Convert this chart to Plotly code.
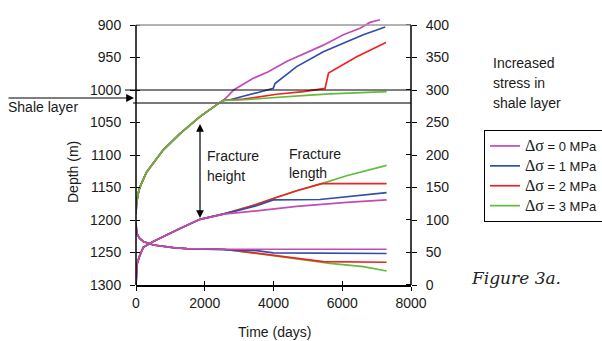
import plotly.graph_objects as go

# ---------------- data ----------------
SERIES = ["0", "1", "2", "3"]
COLORS = ["#C24CB4", "#2F4FA8", "#F22222", "#62BC3C"]

# Upper fracture tip (depth, m) – common part until the shale layer
T_UP_COMMON = [0, 15, 60, 116, 310, 795, 1280, 1862, 2444, 2540]
D_UP_COMMON = [1190, 1175, 1160, 1149, 1126, 1092, 1067, 1041, 1019, 1016]
T_UP_TAIL = [
    [2700, 2840, 3410, 3850, 4380, 4870, 5450, 6030, 6516, 6807, 7100],
    [2735, 3122, 3607, 3994, 4044, 4674, 5450, 6030, 6613, 7250],
    [3122, 4093, 4870, 5500, 5600, 6420, 7272],
    [3122, 4093, 5062, 5644, 7290],
]
D_UP_TAIL = [
    [1008, 1000, 982, 972, 956, 944, 931, 915, 905, 896, 892],
    [1015, 1010, 1003, 997.5, 990, 964, 941, 928, 915, 903],
    [1014, 1006.5, 1002.5, 997.5, 974, 949, 927],
    [1015, 1011, 1008, 1006, 1002.5],
]

# Lower fracture tip (depth, m)
T_LOW_COMMON = [0, 5, 20, 100, 212, 503, 1086, 1475, 2540]
D_LOW_COMMON = [1205, 1213, 1220, 1228, 1233, 1238.5, 1242.6, 1244, 1245]
T_LOW_TAIL = [
    [7290],
    [3025, 3510, 3994, 7290],
    [3510, 4674, 5450, 7290],
    [3510, 4674, 5644, 6613, 7290],
]
D_LOW_TAIL = [
    [1245],
    [1245.5, 1247, 1250.5, 1251.5],
    [1251, 1259, 1264, 1265],
    [1251.5, 1260, 1266.6, 1271.8, 1278.5],
]

# Fracture length (m, right axis)
T_LEN_COMMON = [0, 5, 30, 100, 212, 503, 795, 1280, 1862, 2540]
L_LEN_COMMON = [0, 18, 32, 44, 58, 67, 75, 87, 101, 109]
T_LEN_TAIL = [
    [3510, 4674, 6128, 7290],
    [3000, 3510, 3994, 5350, 6128, 7290],
    [3000, 3510, 3994, 4674, 5400, 7290],
    [3000, 3510, 3994, 4674, 5400, 6128, 7290],
]
L_LEN_TAIL = [
    [114, 121, 127, 131],
    [115, 122, 131, 131.5, 136, 142],
    [116, 124, 133, 145, 156, 156],
    [116, 124, 133, 145, 156, 168, 184],
]

SHALE_TOP = 1000
SHALE_BOTTOM = 1020
DEPTH_TOP = 900
DEPTH_BOTTOM = 1300

X_TICKS = [0, 2000, 4000, 6000, 8000]
DEPTH_TICKS = [900, 950, 1000, 1050, 1100, 1150, 1200, 1250, 1300]
LEN_TICKS = [0, 50, 100, 150, 200, 250, 300, 350, 400]

# ---------------- layout geometry ----------------
W, H = 602, 341
ML, MR, MT, MB = 136, 191, 15, 56
PW, PH = W - ML - MR, H - MT - MB
PX_PER_M = 260 / 400.0
Y_TOP = DEPTH_BOTTOM - PH / PX_PER_M  # slight headroom above 900
LEN_TOP = DEPTH_BOTTOM - Y_TOP


def px_x(p):
    return (p - ML) / PW


def px_y(p):
    return (H - MB - p) / PH


FONT = "Liberation Sans, Arial, sans-serif"
TXT = "#1a1a1a"

fig = go.Figure()

# upper tips (green on top)
for i, s in enumerate(SERIES):
    fig.add_trace(go.Scatter(
        x=T_UP_COMMON + T_UP_TAIL[i], y=D_UP_COMMON + D_UP_TAIL[i],
        mode="lines", line=dict(color=COLORS[i], width=1.7),
        name="<span style='font-family:Liberation Serif; font-size:16px'>Δσ</span> = %s MPa" % s,
        legendgroup=s, showlegend=True, hoverinfo="skip"))

# lower tips and lengths (magenta on top)
for i in reversed(range(len(SERIES))):
    s = SERIES[i]
    fig.add_trace(go.Scatter(
        x=T_LOW_COMMON + T_LOW_TAIL[i], y=D_LOW_COMMON + D_LOW_TAIL[i],
        mode="lines", line=dict(color=COLORS[i], width=1.7),
        legendgroup=s, showlegend=False, hoverinfo="skip"))
for i in reversed(range(len(SERIES))):
    s = SERIES[i]
    fig.add_trace(go.Scatter(
        x=T_LEN_COMMON + T_LEN_TAIL[i], y=L_LEN_COMMON + L_LEN_TAIL[i],
        mode="lines", line=dict(color=COLORS[i], width=1.7),
        yaxis="y2", legendgroup=s, showlegend=False, hoverinfo="skip"))

tickfont = dict(family=FONT, size=14, color=TXT)

fig.update_layout(
    width=W, height=H,
    margin=dict(l=ML, r=MR, t=MT, b=MB, pad=0, autoexpand=False),
    paper_bgcolor="white", plot_bgcolor="white",
    showlegend=True,
    legend=dict(x=px_x(484), y=px_y(130), xanchor="left", yanchor="top",
                bordercolor="black", borderwidth=1, bgcolor="white",
                font=dict(family=FONT, size=13, color=TXT),
                itemwidth=30, tracegroupgap=0),
    xaxis=dict(range=[0, 8000], tickmode="array", tickvals=X_TICKS,
               ticktext=[str(v) for v in X_TICKS],
               ticks="outside", ticklen=4, tickwidth=1.3, tickcolor="black",
               showline=True, linecolor="black", linewidth=1.5,
               showgrid=False, zeroline=False, tickfont=tickfont,
               minor=dict(tickmode="array", tickvals=[v + 1 for v in X_TICKS],
                          ticks="inside", ticklen=4, tickwidth=1.3,
                          tickcolor="black", showgrid=False)),
    yaxis=dict(range=[DEPTH_BOTTOM, Y_TOP], tickmode="array",
               tickvals=DEPTH_TICKS, ticktext=[str(v) for v in DEPTH_TICKS],
               ticks="outside", ticklen=5, tickwidth=1.3, tickcolor="black",
               showline=False, showgrid=False, zeroline=False,
               tickfont=tickfont, ticklabelstandoff=6,
               minor=dict(tickmode="array", tickvals=[v + 0.1 for v in DEPTH_TICKS],
                          ticks="inside", ticklen=4, tickwidth=1.3,
                          tickcolor="black", showgrid=False)),
    yaxis2=dict(range=[0, LEN_TOP], overlaying="y", side="right",
                tickmode="array", tickvals=LEN_TICKS,
                ticktext=[str(v) for v in LEN_TICKS],
                ticks="outside", ticklen=5, tickwidth=1.3, tickcolor="black",
                showline=False, showgrid=False, zeroline=False,
                tickfont=tickfont, ticklabelstandoff=6,
                minor=dict(tickmode="array", tickvals=[v + 0.1 for v in LEN_TICKS],
                           ticks="inside", ticklen=5, tickwidth=1.3,
                           tickcolor="black", showgrid=False)),
)

# reference lines and axis lines
shapes = [
    dict(type="line", xref="paper", yref="y", x0=0, x1=1, y0=DEPTH_TOP, y1=DEPTH_TOP,
         line=dict(color="#9a9a9a", width=1.6)),
    dict(type="line", xref="paper", yref="y", x0=px_x(125), x1=1, y0=SHALE_TOP, y1=SHALE_TOP,
         line=dict(color="black", width=1)),
    dict(type="line", xref="paper", yref="y", x0=px_x(133), x1=1, y0=SHALE_BOTTOM, y1=SHALE_BOTTOM,
         line=dict(color="#7a7a7a", width=2)),
    dict(type="line", xref="paper", yref="y", x0=0, x1=0, y0=DEPTH_TOP, y1=DEPTH_BOTTOM,
         line=dict(color="black", width=1.5)),
    dict(type="line", xref="paper", yref="y", x0=1, x1=1, y0=DEPTH_TOP, y1=DEPTH_BOTTOM,
         line=dict(color="black", width=1.5)),
]
fig.update_layout(shapes=shapes)

ann_font = dict(family=FONT, size=14, color=TXT)
annotations = []


def label(text, xp, yp, xanchor="left", **kw):
    annotations.append(dict(text=text, x=px_x(xp), y=px_y(yp), xref="paper", yref="paper",
                            xanchor=xanchor, yanchor="middle", showarrow=False,
                            font=kw.pop("font", ann_font), **kw))


label("Increased", 491, 63)
label("stress in", 491, 83)
label("shale layer", 491, 103)
label("Shale layer", 6, 107)
label("Fracture", 205, 156)
label("height", 205, 176)
label("Fracture", 287, 154)
label("length", 287, 173)
label("Time (days)", 274, 332, xanchor="center")
label("Depth (m)", 73, 172, xanchor="center", textangle=-90)
label("<i>Figure 3a.</i>", 469, 278,
      font=dict(family="DejaVu Serif", size=17, color="#222"))

# Shale layer arrow
annotations.append(dict(x=px_x(134), y=1012.3, xref="paper", yref="y",
                        ax=-127, ay=0, axref="pixel", ayref="pixel",
                        showarrow=True, arrowhead=2, arrowsize=1.3, arrowwidth=1.2,
                        arrowcolor="black", text=""))
# Fracture height double arrow
annotations.append(dict(x=1862, y=1197, xref="x", yref="y",
                        ax=1862, ay=1050, axref="x", ayref="y",
                        showarrow=True, arrowhead=2, startarrowhead=2,
                        arrowside="end+start", arrowsize=1.3, startarrowsize=1.3,
                        arrowwidth=1.2, arrowcolor="black", text=""))
fig.update_layout(annotations=annotations)

fig.write_html("out.html")
